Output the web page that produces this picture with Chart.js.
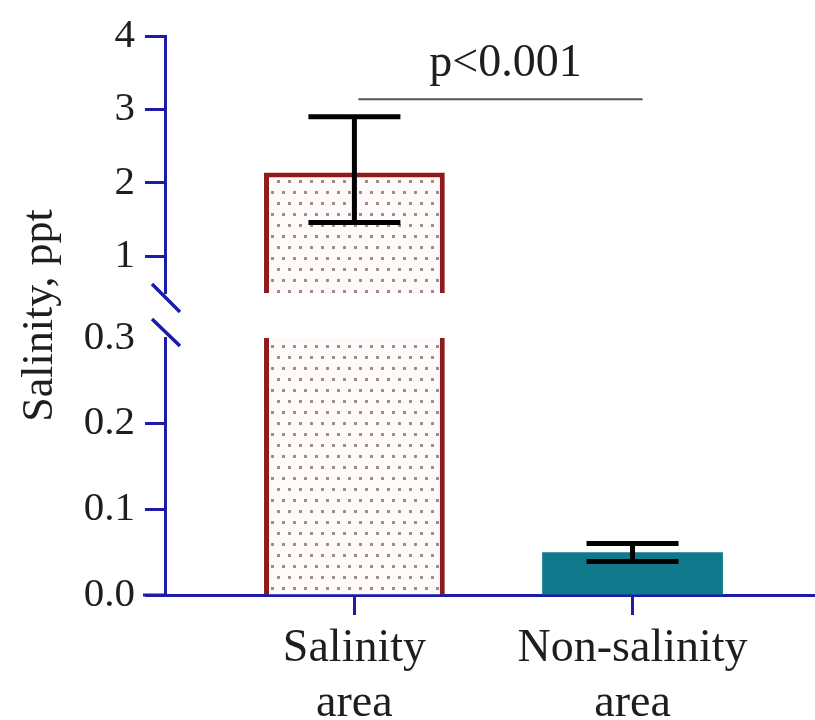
<!DOCTYPE html>
<html><head><meta charset="utf-8">
<script src="https://cdn.jsdelivr.net/npm/chart.js@4/dist/chart.umd.min.js"></script>
<style>html,body{margin:0;padding:0;background:#fff}#wrap{width:815px;height:720px;position:relative}</style>
</head><body><div id="wrap"><canvas id="c"></canvas></div>
<script>
// ---- data ----
const categories = [['Salinity', 'area'], ['Non-salinity', 'area']];
const means = [2.14, 0.050];
const errHigh = [2.90, 0.060];
const errLow = [1.46, 0.039];
const lowerTicks = [0, 0.1, 0.2, 0.3];
const upperTicks = [1, 2, 3, 4];
const lowerRange = [0, 0.3];
const upperRange = [0.5, 4];
const sigText = 'p<0.001';
const sigLevel = 3.14;
const yTitle = 'Salinity, ppt';

// ---- style ----
const BLUE = '#1c1ca8';
const RED = '#8e1b1b';
const TEAL = '#10798b';
const TXT = '#1e1e1e';
const FAM = "'Liberation Serif', 'Times New Roman', serif";
const AXIS_LEFT = 165;

const canvas = document.getElementById('c');
const ctx0 = canvas.getContext('2d');
function dotPattern() {
  const c = document.createElement('canvas'); c.width = 11; c.height = 22;
  const g = c.getContext('2d');
  g.fillStyle = '#fffafa'; g.fillRect(0, 0, 11, 22);
  g.fillStyle = 'rgba(140,110,110,0.8)';
  g.fillRect(2, 4, 3, 3);
  g.fillRect(7, 15, 3, 3);
  return ctx0.createPattern(c, 'repeat');
}
const PAT = dotPattern();
const fills = [PAT, TEAL];
const borders = [RED, TEAL];

const lowData = means.map((v, i) => ({ x: i, y: [lowerRange[0], Math.min(v, lowerRange[1])] }));
const highData = means.map((v, i) => v > upperRange[0] ? { x: i, y: [upperRange[0], Math.min(v, upperRange[1])] } : null).filter(Boolean);

const extras = {
  id: 'extras',
  afterDatasetsDraw(chart) {
    const { ctx, scales } = chart;
    const xs = scales.x, yL = scales.yLow, yH = scales.yHigh;
    ctx.save();
    // error bars
    ctx.strokeStyle = '#000'; ctx.lineWidth = 5; ctx.lineCap = 'butt';
    means.forEach((m, i) => {
      const ax = errHigh[i] > lowerRange[1] ? yH : yL;
      const x = xs.getPixelForValue(i);
      const t = ax.getPixelForValue(errHigh[i]);
      const b = ax.getPixelForValue(errLow[i]);
      ctx.beginPath();
      ctx.moveTo(x, t); ctx.lineTo(x, b);
      ctx.moveTo(x - 46, t); ctx.lineTo(x + 46, t);
      ctx.moveTo(x - 46, b); ctx.lineTo(x + 46, b);
      ctx.stroke();
    });
    // significance
    const sy = yH.getPixelForValue(sigLevel);
    const x0 = xs.getPixelForValue(0) + 4, x1 = xs.getPixelForValue(1) + 10;
    ctx.strokeStyle = '#555'; ctx.lineWidth = 2;
    ctx.beginPath(); ctx.moveTo(x0, sy); ctx.lineTo(x1, sy); ctx.stroke();
    ctx.fillStyle = TXT; ctx.font = '46px ' + FAM;
    ctx.textAlign = 'center'; ctx.textBaseline = 'alphabetic';
    ctx.fillText(sigText, (x0 + x1) / 2 + 5, sy - 23);
    // axis break slashes
    const ax = yL.right;
    ctx.strokeStyle = BLUE; ctx.lineWidth = 3.5;
    const ub = yH.bottom, lt = yL.top;
    ctx.beginPath();
    ctx.moveTo(ax - 13, ub - 9); ctx.lineTo(ax + 15, ub + 19);
    ctx.moveTo(ax - 13, lt - 19); ctx.lineTo(ax + 15, lt + 8);
    ctx.stroke();
    // x axis extension to left
    ctx.lineWidth = 3;
    ctx.beginPath(); ctx.moveTo(ax - 22, yL.bottom); ctx.lineTo(ax, yL.bottom); ctx.stroke();
    ctx.restore();
  }
};

const yCommon = (ticks, fmt, w, weight) => ({
  type: 'linear', position: 'left', stack: 'ybreak', stackWeight: w, weight: weight,
  afterBuildTicks: s => { s.ticks = ticks.map(v => ({ value: v })); },
  afterFit: s => { s.width = AXIS_LEFT; },
  border: { display: true, color: BLUE, width: 3 },
  grid: { display: true, drawOnChartArea: false, drawTicks: true, tickLength: 20, tickWidth: 3,
          tickColor: c => (c.tick && c.tick.value === lowerRange[1] && ticks === lowerTicks) ? 'rgba(0,0,0,0)' : BLUE },
  ticks: { color: TXT, font: { family: FAM, size: 41 }, padding: 10, callback: fmt }
});

const yLowCfg = yCommon(lowerTicks, v => v.toFixed(1), 257, 1);
yLowCfg.min = lowerRange[0]; yLowCfg.max = lowerRange[1];
const yHighCfg = yCommon(upperTicks, v => String(v), 257, 3);
yHighCfg.min = upperRange[0]; yHighCfg.max = upperRange[1];

new Chart(canvas, {
  type: 'bar',
  data: {
    datasets: [
      { label: 'low', data: lowData, yAxisID: 'yLow', grouped: false,
        backgroundColor: c => fills[c.raw ? c.raw.x : 0],
        borderColor: c => borders[c.raw ? c.raw.x : 0],
        borderWidth: c => (c.raw && c.raw.x === 0) ? { left: 5, right: 5, top: 0, bottom: 0 } : 0,
        borderSkipped: false, categoryPercentage: 0.65, barPercentage: 1 },
      { label: 'high', data: highData, yAxisID: 'yHigh', grouped: false,
        backgroundColor: c => fills[c.raw ? c.raw.x : 0],
        borderColor: c => borders[c.raw ? c.raw.x : 0],
        borderWidth: { left: 5, right: 5, top: 5, bottom: 0 },
        borderSkipped: false, categoryPercentage: 0.65, barPercentage: 1 }
    ]
  },
  options: {
    responsive: true, maintainAspectRatio: false, animation: false,
    layout: { padding: { top: 36, right: 0, left: 0, bottom: 0 } },
    plugins: { legend: { display: false }, tooltip: { enabled: false } },
    scales: {
      x: {
        type: 'linear', min: -0.681, max: 1.656, offset: false,
        afterBuildTicks: s => { s.ticks = categories.map((_, i) => ({ value: i })); },
        afterFit: s => { s.height = 125; },
        border: { display: true, color: BLUE, width: 3 },
        grid: { display: true, offset: false, drawOnChartArea: false, drawTicks: true, tickLength: 20, tickWidth: 3, tickColor: BLUE },
        ticks: { color: TXT, font: { family: FAM, size: 46, lineHeight: 1.2 }, padding: 6, maxRotation: 0,
                 callback: v => categories[v] }
      },
      yHigh: yHighCfg,
      yGap: {
        type: 'linear', position: 'left', stack: 'ybreak', stackWeight: 45, weight: 2, min: 0, max: 1,
        afterFit: s => { s.width = AXIS_LEFT; },
        border: { display: false }, grid: { display: false }, ticks: { display: false },
        title: { display: true, text: yTitle, color: TXT, font: { family: FAM, size: 44 }, padding: { top: 14, bottom: 0 } }
      },
      yLow: yLowCfg
    }
  },
  plugins: [extras]
});
</script></body></html>
